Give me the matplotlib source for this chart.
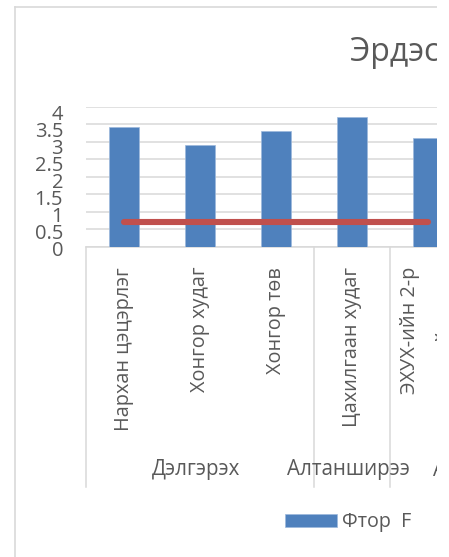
import matplotlib
matplotlib.use("Agg")
import matplotlib.pyplot as plt
from matplotlib.lines import Line2D
from matplotlib.patches import Rectangle
import matplotlib.transforms as mtransforms

plt.rcParams['font.family'] = ['Open Sans', 'DejaVu Sans']

# Data
sites = ["Нархан цэцэрлэг", "Хонгор худаг", "Хонгор төв", "Цахилгаан худаг",
         "ЭХУХ-ийн 2-р\nгүний худаг"]
fluoride = [3.41, 2.90, 3.30, 3.70, 3.10]
norm = [0.7, 0.7, 0.7, 0.7, 0.7]
soums = ["Дэлгэрэх", "Алтанширээ", "Айраг"]
soum_bounds = [(-0.5, 2.5), (2.5, 3.5), (3.5, 5.5)]
yticks = [0, 0.5, 1, 1.5, 2, 2.5, 3, 3.5, 4]
ytick_labels = ["0", "0.5", "1", "1.5", "2", "2.5", "3", "3.5", "4"]
title = "Эрдэс бодисын агууламж"
series_name = "Фтор  F"

W, H = 449, 557
DPI = 100
TXT = "#595959"
GRID = "#D9D9D9"
BLUE = "#4F81BD"
RED = "#C0504D"

fig = plt.figure(figsize=(W / DPI, H / DPI), dpi=DPI)
fig.patch.set_facecolor("white")


def fx(px):
    return px / W


def fy(py):
    return 1 - py / H


# plot area in pixels
left_px, right_px = 86, 86 + 76 * 5
top_px, bottom_px = 106.7, 246.7
ax = fig.add_axes([fx(left_px), fy(bottom_px), fx(right_px - left_px),
                   (bottom_px - top_px) / H])
ax.set_xlim(-0.5, 4.5)
ax.set_ylim(0, 4)
ax.set_facecolor("none")

x = list(range(len(sites)))
bars = ax.bar(x, fluoride, width=0.4, color=BLUE, edgecolor="#9DB9DC",
              linewidth=0.5, zorder=3, label=series_name)
ax.plot(x, norm, color=RED, lw=4.4, solid_capstyle="round", zorder=4)

ax.set_yticks(yticks)
ax.set_yticklabels(ytick_labels)
ax.yaxis.grid(True, color=GRID, lw=1.1)
ax.set_axisbelow(True)
ax.tick_params(axis="y", length=0, pad=16.5, labelsize=14.5, labelcolor=TXT)
# tick labels sit a little lower towards the top of the scale
for v, lbl in zip(yticks, ax.get_yticklabels()):
    shift_px = 1.5 + 4.5 * v / 4
    lbl.set_transform(lbl.get_transform() +
                      mtransforms.ScaledTranslation(0, -shift_px / DPI,
                                                    fig.dpi_scale_trans))
ax.set_xticks([])
for s in ["top", "right", "left"]:
    ax.spines[s].set_visible(False)
ax.spines["bottom"].set_color(GRID)
ax.spines["bottom"].set_linewidth(1.1)

trans = mtransforms.blended_transform_factory(ax.transData, ax.transAxes)
sep_bottom = (bottom_px - 487) / (bottom_px - top_px)
lab_top = (bottom_px - 267) / (bottom_px - top_px)
grp_y = (bottom_px - 470) / (bottom_px - top_px)

# category separators
for xs in [-0.5, 2.5, 3.5]:
    ax.add_line(Line2D([xs, xs], [0, sep_bottom], transform=trans, color=GRID,
                       lw=1.1, clip_on=False))

# site labels
for xi, name in zip(x, sites):
    ax.text(xi, lab_top, name, transform=trans, rotation=90, ha="center",
            va="top", fontsize=14.3, color=TXT, linespacing=2.0,
            multialignment="center", clip_on=False)

# soum labels
for name, (a, b) in zip(soums[:2], soum_bounds[:2]):
    ax.text((a + b) / 2 - 0.05, grp_y, name, transform=trans, ha="center",
            va="center", fontsize=14.8, color=TXT, clip_on=False)
ax.text(3.5 + 43 / 76, grp_y, soums[2], transform=trans, ha="left",
        va="center", fontsize=14.8, color=TXT, clip_on=False)

# title
fig.text(fx(350), fy(61), title, ha="left", va="baseline", fontsize=23,
         color=TXT)

# legend
leg = fig.legend(handles=[bars], labels=[series_name], loc="center left",
                 bbox_to_anchor=(fx(285), fy(522.5)), frameon=False,
                 fontsize=14.2, handlelength=52 / 19.7, handleheight=13 / 19.7,
                 handletextpad=0.25, borderpad=0, borderaxespad=0,
                 labelcolor=TXT)

# chart border
fig.add_artist(Line2D([fx(15), fx(15)], [fy(7.3), fy(H + 5)], color=GRID,
                      lw=1.2, transform=fig.transFigure))
fig.add_artist(Line2D([fx(15), fx(W + 5)], [fy(7.3), fy(7.3)], color=GRID,
                      lw=1.2, transform=fig.transFigure))

# right margin outside the chart
fig.add_artist(Rectangle((fx(437), 0), fx(W - 437) + 0.01, 1.01,
                         transform=fig.transFigure, facecolor="white",
                         edgecolor="none", zorder=100))

fig.savefig("out.png", dpi=DPI, facecolor="white")
